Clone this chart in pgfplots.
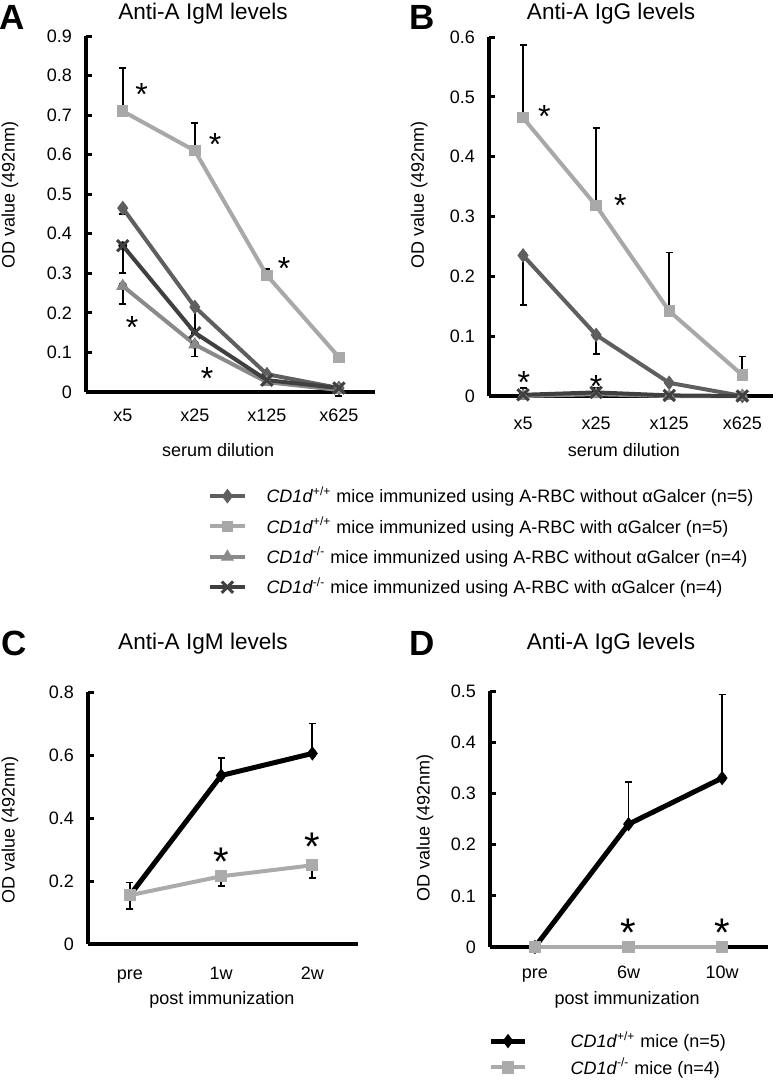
\documentclass[border=0pt]{standalone}
\usepackage{fontspec}
\setmainfont{Liberation Sans}
\usepackage{pgfplots}
\pgfplotsset{compat=1.18}
\definecolor{cDia}{HTML}{5F5F5F}
\definecolor{cSq}{HTML}{A8A8A8}
\definecolor{cTri}{HTML}{8A8A8A}
\definecolor{cX}{HTML}{404040}
\definecolor{cGr}{HTML}{ABABAB}
\newcommand{\nf}{\fontsize{9}{10.8}\selectfont}
\newcommand{\tf}{\fontsize{11.3}{13}\selectfont}
\pgfplotsset{
  panel/.style={
    scale only axis, clip=false,
    axis x line*=bottom, axis y line*=left,
    axis line style={line width=2pt, -},
    tick align=inside, major tick length=3pt,
    ytick style={line width=1.5pt, black},
    xtick style={draw=none},
    tick label style={font=\nf, black},
    xticklabel style={text height=6.5pt, text depth=2pt},
    /pgf/number format/assume math mode=true,
    yticklabel shift=3.5pt,
    label style={font=\nf},
    title style={font=\tf, anchor=center},
    error bars/error bar style={line width=0.9pt, black, solid},
    error bars/error mark options={rotate=90, line width=0.9pt, black, mark size=1.75pt, solid},
  },
  errup/.style={black, only marks, mark=none, forget plot,
    error bars/.cd, y dir=plus, y explicit},
  errdn/.style={black, only marks, mark=none, forget plot,
    error bars/.cd, y dir=minus, y explicit},
  sdia/.style={cDia, line width=2pt, mark=diamond*, mark size=3.3pt, mark options={solid, fill=cDia, draw=cDia, line width=0.5pt}},
  ssq/.style={cSq, line width=2pt, mark=square*, mark size=2.6pt, mark options={solid, fill=cSq, draw=cSq, line width=0.5pt}},
  stri/.style={cTri, line width=2pt, mark=triangle*, mark size=3.3pt, mark options={solid, fill=cTri, draw=cTri, line width=0.5pt}},
  sx/.style={cX, line width=2pt, mark=x, mark size=4pt, mark options={solid, draw=cX, line width=1.5pt}},
}
\tikzset{
  ast/.style={font=\fontsize{16}{16}\selectfont, inner sep=0pt, anchor=base, yshift=-9.1pt},
  astb/.style={font=\fontsize{20}{20}\selectfont, inner sep=0pt, anchor=base, yshift=-11.4pt},
}
\begin{document}
\begin{tikzpicture}
\path[use as bounding box] (0pt,0pt) rectangle (390pt,-541pt);
% Panel letters
\node[font=\fontsize{17.5}{18}\selectfont\bfseries] at (6pt,-8.5pt) {A};
\node[font=\fontsize{17.5}{18}\selectfont\bfseries] at (211pt,-8.5pt) {B};
\node[font=\fontsize{17.5}{18}\selectfont\bfseries] at (7pt,-321.5pt) {C};
\node[font=\fontsize{17.5}{18}\selectfont\bfseries] at (211pt,-321.5pt) {D};

% ---------------- Panel A ----------------
\begin{axis}[panel, at={(43pt,-196pt)}, anchor=south west,
  width=144.5pt, height=178pt,
  xmin=-0.51, xmax=3.5, ymin=0, ymax=0.9,
  xtick={0,1,2,3}, xticklabels={x5,x25,x125,x625},
  ytick={0,0.1,0.2,0.3,0.4,0.5,0.6,0.7,0.8,0.9},
  xticklabel shift=4.5pt,
  title={Anti-A IgM levels},
  title style={at={(axis description cs:0.405,1.028)}},
  xlabel={serum dilution},
  xlabel style={at={(axis description cs:0.457,-0.163)}, anchor=center},
  ylabel={OD value (492nm)},
  ylabel style={at={(axis description cs:-0.263,0.553)}, anchor=center, rotate=0},
  legend style={draw=none, fill=none, at={(0.422,-0.253)}, anchor=north west,
    font=\nf, row sep=1.5pt, column sep=8pt, inner sep=0pt},
  legend cell align=left,
]
\addplot[errup] coordinates {(0,0.71) +- (0,0.11) (1,0.61) +- (0,0.07) (2,0.295) +- (0,0.015)};
\addplot[errdn] coordinates {(0,0.465) +- (0,0.015) (1,0.215) +- (0,0.065)};
\addplot[errdn] coordinates {(0,0.268) +- (0,0.045) (1,0.12) +- (0,0.03) (3,0.005) +- (0,0.015)};
\addplot[errdn] coordinates {(0,0.37) +- (0,0.07)};
\addplot[sdia] coordinates {(0,0.465) (1,0.215) (2,0.045) (3,0.01)};
\addplot[ssq] coordinates {(0,0.71) (1,0.61) (2,0.295) (3,0.088)};
\addplot[stri] coordinates {(0,0.268) (1,0.12) (2,0.025) (3,0.005)};
\addplot[sx] coordinates {(0,0.37) (1,0.15) (2,0.03) (3,0.01)};
\legend{\textit{CD1d}\textsuperscript{+/+} mice immunized using A-RBC without αGalcer (n=5),
  \textit{CD1d}\textsuperscript{+/+} mice immunized using A-RBC with αGalcer (n=5),
  \textit{CD1d}\textsuperscript{-/-} mice immunized using A-RBC without αGalcer (n=4),
  \textit{CD1d}\textsuperscript{-/-} mice immunized using A-RBC with αGalcer (n=4)}
\node[ast] at (axis cs:0.26,0.77) {*};
\node[ast] at (axis cs:1.28,0.645) {*};
\node[ast] at (axis cs:2.24,0.33) {*};
\node[ast] at (axis cs:0.13,0.182) {*};
\node[ast] at (axis cs:1.17,0.053) {*};
\end{axis}

% ---------------- Panel B ----------------
\begin{axis}[panel, at={(244.5pt,-198pt)}, anchor=south west,
  width=142pt, height=179.5pt,
  xmin=-0.466, xmax=3.42, ymin=0, ymax=0.6,
  xtick={0,1,2,3}, xticklabels={x5,x25,x125,x625},
  ytick={0,0.1,0.2,0.3,0.4,0.5,0.6},
  xticklabel shift=6.5pt,
  title={Anti-A IgG levels},
  title style={at={(axis description cs:0.43,1.031)}},
  xlabel={serum dilution},
  xlabel style={at={(axis description cs:0.475,-0.15)}, anchor=center},
  ylabel={OD value (492nm)},
  ylabel style={at={(axis description cs:-0.246,0.56)}, anchor=center, rotate=0},
]
\addplot[errup] coordinates {(0,0.465) +- (0,0.122) (1,0.318) +- (0,0.13) (2,0.142) +- (0,0.098) (3,0.035) +- (0,0.031)};
\addplot[errdn] coordinates {(0,0.235) +- (0,0.083) (1,0.102) +- (0,0.032)};
\addplot[errup] coordinates {(0,0.002) +- (0,0.011) (1,0.006) +- (0,0.008)};
\addplot[sdia] coordinates {(0,0.235) (1,0.102) (2,0.022) (3,0.0)};
\addplot[ssq] coordinates {(0,0.465) (1,0.318) (2,0.142) (3,0.035)};
\addplot[stri] coordinates {(0,0.0) (1,0.003) (2,0.0) (3,0.0)};
\addplot[sx] coordinates {(0,0.002) (1,0.006) (2,0.001) (3,0.0)};
\node[ast] at (axis cs:0.29,0.48) {*};
\node[ast] at (axis cs:1.33,0.33) {*};
\node[ast] at (axis cs:0.01,0.035) {*};
\node[ast] at (axis cs:1.0,0.028) {*};
\end{axis}

% ---------------- Panel C ----------------
\begin{axis}[panel, at={(44pt,-472pt)}, anchor=south west,
  width=135pt, height=126pt,
  xmin=-0.46, xmax=2.5, ymin=0, ymax=0.8,
  xtick={0,1,2}, xticklabels={pre,1w,2w},
  ytick={0,0.2,0.4,0.6,0.8},
  xticklabel shift=7.5pt,
  title={Anti-A IgM levels},
  title style={at={(axis description cs:0.426,1.146)}},
  xlabel={post immunization},
  xlabel style={at={(axis description cs:0.496,-0.222)}, anchor=center},
  ylabel={OD value (492nm)},
  ylabel style={at={(axis description cs:-0.289,0.452)}, anchor=center, rotate=0},
]
\addplot[errup] coordinates {(0,0.155) +- (0,0.04) (1,0.535) +- (0,0.055) (2,0.605) +- (0,0.095)};
\addplot[errdn] coordinates {(0,0.155) +- (0,0.045) (1,0.215) +- (0,0.03) (2,0.25) +- (0,0.04)};
\addplot[black, line width=2.5pt, mark=diamond*, mark size=3.2pt, mark options={solid, fill=black, line width=0.5pt}] coordinates {(0,0.155) (1,0.535) (2,0.605)};
\addplot[cGr, line width=2pt, mark=square*, mark size=2.8pt, mark options={solid, fill=cGr, draw=cGr, line width=0.5pt}] coordinates {(0,0.155) (1,0.215) (2,0.25)};
\node[astb] at (axis cs:1.0,0.289) {*};
\node[astb] at (axis cs:2.0,0.337) {*};
\end{axis}

% ---------------- Panel D ----------------
\begin{axis}[panel, at={(245pt,-473.5pt)}, anchor=south west,
  width=139pt, height=128pt,
  xmin=-0.48, xmax=2.49, ymin=0, ymax=0.5,
  xtick={0,1,2}, xticklabels={pre,6w,10w},
  ytick={0,0.1,0.2,0.3,0.4,0.5},
  xticklabel shift=5.5pt,
  title={Anti-A IgG levels},
  title style={at={(axis description cs:0.435,1.14)}},
  xlabel={post immunization},
  xlabel style={at={(axis description cs:0.493,-0.207)}, anchor=center},
  ylabel={OD value (492nm)},
  ylabel style={at={(axis description cs:-0.234,0.465)}, anchor=center, rotate=0},
  legend style={draw=none, fill=none, at={(-0.007,-0.3125)}, anchor=north west,
    font=\nf, row sep=-0.5pt, column sep=19.5pt, inner sep=0pt},
  legend cell align=left,
]
\addplot[errup] coordinates {(1,0.24) +- (0,0.082) (2,0.33) +- (0,0.163)};
\addplot[errdn] coordinates {(0,0.0) +- (0,0.008) (1,0.0) +- (0,0.01)};
\addplot[black, line width=2.5pt, mark=diamond*, mark size=3.2pt, mark options={solid, fill=black, line width=0.5pt}] coordinates {(0,0.0) (1,0.24) (2,0.33)};
\addplot[cGr, line width=2pt, mark=square*, mark size=2.8pt, mark options={solid, fill=cGr, draw=cGr, line width=0.5pt}] coordinates {(0,0.0) (1,0.0) (2,0.0)};
\legend{\textit{CD1d}\textsuperscript{+/+} mice (n=5), \textit{CD1d}\textsuperscript{-/-} mice (n=4)}
\node[astb] at (axis cs:1.0,0.045) {*};
\node[astb] at (axis cs:2.0,0.045) {*};
\end{axis}
\end{tikzpicture}
\end{document}
